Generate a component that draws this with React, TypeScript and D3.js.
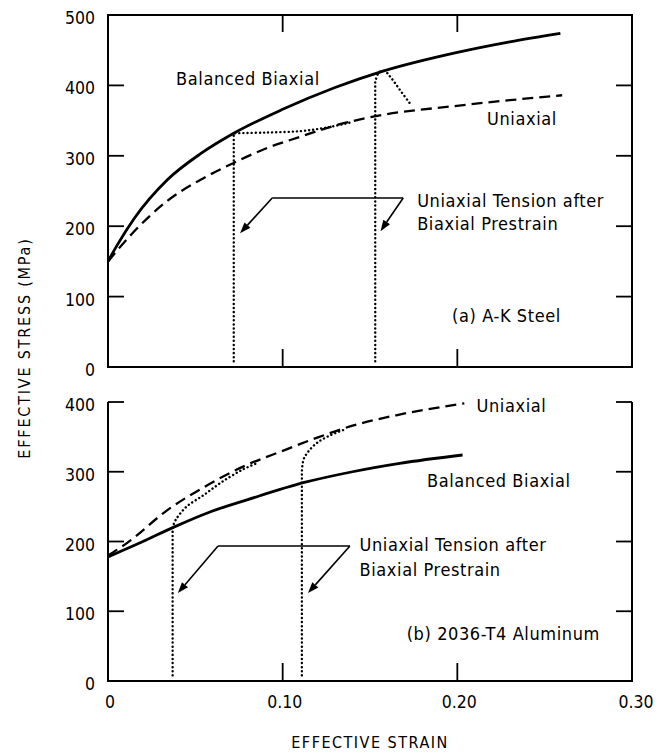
import React from 'react';
import * as d3 from 'd3';

// strain / stress pairs
// (a) A-K Steel
const steelBiaxial: [number, number][] = [
  [0, 150], [0.005, 172], [0.015, 211], [0.034, 266], [0.053, 303], [0.072, 332],
  [0.1, 366], [0.13, 397], [0.157, 420], [0.2, 447], [0.23, 462], [0.259, 474],
];
const steelUniaxial: [number, number][] = [
  [0, 150], [0.014, 190], [0.034, 236], [0.053, 266], [0.072, 290], [0.09, 310],
  [0.11, 327], [0.13, 343], [0.157, 358], [0.196, 370], [0.23, 379], [0.26, 386],
];
const steelPre1: [number, number][] = [
  [0.072, 8], [0.072, 332], [0.09, 333], [0.11, 335], [0.125, 340], [0.14, 348],
];
const steelPre2: [number, number][] = [
  [0.153, 8], [0.153, 405], [0.155, 418], [0.158, 421], [0.162, 411], [0.167, 394], [0.173, 374],
];

// (b) 2036-T4 Aluminum
const alBiaxial: [number, number][] = [
  [0, 178], [0.02, 200], [0.038, 221], [0.058, 242], [0.08, 260], [0.113, 285],
  [0.14, 300], [0.167, 312], [0.203, 324],
];
const alUniaxial: [number, number][] = [
  [0, 180], [0.011, 198], [0.034, 245], [0.055, 278], [0.077, 307], [0.1, 330],
  [0.121, 350], [0.14, 366], [0.165, 381], [0.204, 398],
];
const alPre1: [number, number][] = [
  [0.037, 8], [0.037, 221], [0.039, 232], [0.045, 250], [0.055, 267], [0.065, 285],
  [0.077, 303], [0.086, 313],
];
const alPre2: [number, number][] = [
  [0.111, 8], [0.111, 300], [0.112, 318], [0.115, 330], [0.12, 342], [0.127, 352], [0.136, 361],
];

const xTicks = [0, 0.1, 0.2, 0.3];
const xTickLabels = ['0', '0.10', '0.20', '0.30'];
const steelTicks = [0, 100, 200, 300, 400, 500];
const alTicks = [0, 100, 200, 300, 400];

const FONT = "'DejaVu Sans Condensed', 'DejaVu Sans', sans-serif";

const x = d3.scaleLinear().domain([0, 0.3]).range([108, 632]);
const yTop = d3.scaleLinear().domain([0, 500]).range([367, 15]);
const yBot = d3.scaleLinear().domain([0, 400]).range([681, 402]);

const Arrow = ({ x1, y1, x2, y2 }: { x1: number; y1: number; x2: number; y2: number }) => {
  const a = Math.atan2(y2 - y1, x2 - x1);
  const L = 11, W = 4;
  const bx = x2 - L * Math.cos(a), by = y2 - L * Math.sin(a);
  const p = `${x2},${y2} ${bx + W * Math.sin(a)},${by - W * Math.cos(a)} ${bx - W * Math.sin(a)},${by + W * Math.cos(a)}`;
  return (
    <g>
      <line x1={x1} y1={y1} x2={bx} y2={by} stroke="#000" strokeWidth={1.6} />
      <polygon points={p} fill="#000" />
    </g>
  );
};

const Panel = ({ y, ticks, top, curves, labels, leader }: any) => {
  const smooth = d3.line<[number, number]>()
    .x(d => x(d[0]))
    .y(d => y(d[1]))
    .curve(d3.curveMonotoneX);
  const bent = d3.line<[number, number]>()
    .x(d => x(d[0]))
    .y(d => y(d[1]))
    .curve(d3.curveCatmullRom.alpha(0.5));
  const straight = d3.line<[number, number]>()
    .x(d => x(d[0]))
    .y(d => y(d[1]));
  const pathFor = (c: any) => {
    if (c.kind !== 'dotted') return smooth(c.data) || '';
    // vertical reload line, then the curved part
    return (straight(c.data.slice(0, 2)) || '') + (bent(c.data.slice(1)) || '').replace(/^M/, 'L');
  };
  const [y0, y1] = y.range();
  const top0 = y.domain()[1];
  const tl = 16;
  const inner = ticks.filter((t: number) => t > 0 && (!top || t < top0));
  return (
    <g>
      <path
        d={top
          ? `M${x(0)},${y1}V${y0}H${x(0.3)}V${y1}Z`
          : `M${x(0)},${y1}V${y0}H${x(0.3)}V${y1}`}
        fill="none" stroke="#000" strokeWidth={2}
      />
      {inner.map((t: number) => (
        <g key={t}>
          <line x1={x(0)} x2={x(0) + tl} y1={y(t)} y2={y(t)} stroke="#000" strokeWidth={1.8} />
          <line x1={x(0.3)} x2={x(0.3) - tl} y1={y(t)} y2={y(t)} stroke="#000" strokeWidth={1.8} />
        </g>
      ))}
      {[0.1, 0.2].map(t => (
        <g key={t}>
          <line x1={x(t)} x2={x(t)} y1={y0} y2={y0 - 18} stroke="#000" strokeWidth={1.8} />
          {top && <line x1={x(t)} x2={x(t)} y1={y1} y2={y1 + 17} stroke="#000" strokeWidth={1.8} />}
        </g>
      ))}
      {ticks.map((t: number) => (
        <text key={t} x={95} y={y(t) + 3} textAnchor="end" dominantBaseline="central"
          fontSize={17.5} fontFamily={FONT}>{t}</text>
      ))}
      {curves.map((c: any, i: number) => (
        <path key={i} d={pathFor(c)} fill="none" stroke="#000"
          strokeWidth={c.kind === 'solid' ? 2.8 : c.kind === 'dashed' ? 2.3 : 2.4}
          strokeDasharray={c.kind === 'dashed' ? '11,6' : c.kind === 'dotted' ? '0.1,4' : undefined}
          strokeLinecap={c.kind === 'dotted' ? 'round' : 'butt'} />
      ))}
      <line x1={x(leader.from)} x2={x(leader.to)} y1={y(leader.level)} y2={y(leader.level)}
        stroke="#000" strokeWidth={1.6} />
      <Arrow x1={x(leader.from)} y1={y(leader.level)} x2={x(leader.tips[0][0])} y2={y(leader.tips[0][1])} />
      <Arrow x1={x(leader.to)} y1={y(leader.level)} x2={x(leader.tips[1][0])} y2={y(leader.tips[1][1])} />
      {labels.map((l: any, i: number) => (
        <text key={i} x={x(l.at[0])} y={y(l.at[1])} fontSize={18} fontFamily={FONT}
          letterSpacing={0.6}>{l.text}</text>
      ))}
    </g>
  );
};

export default function App() {
  return (
    <svg width={666} height={752} style={{ position: 'absolute', left: 0, top: 0, background: '#fff' }}>
      <Panel
        y={yTop}
        ticks={steelTicks}
        top
        curves={[
          { data: steelBiaxial, kind: 'solid' },
          { data: steelUniaxial, kind: 'dashed' },
          { data: steelPre1, kind: 'dotted' },
          { data: steelPre2, kind: 'dotted' },
        ]}
        leader={{ from: 0.094, to: 0.169, level: 240, tips: [[0.0756, 190], [0.156, 193]] }}
        labels={[
          { text: 'Balanced Biaxial', at: [0.039, 400.6] },
          { text: 'Uniaxial', at: [0.217, 344] },
          { text: 'Uniaxial Tension after', at: [0.177, 227] },
          { text: 'Biaxial Prestrain', at: [0.177, 195] },
          { text: '(a) A-K Steel', at: [0.197, 64] },
        ]}
      />
      <Panel
        y={yBot}
        ticks={alTicks}
        top={false}
        curves={[
          { data: alBiaxial, kind: 'solid' },
          { data: alUniaxial, kind: 'dashed' },
          { data: alPre1, kind: 'dotted' },
          { data: alPre2, kind: 'dotted' },
        ]}
        leader={{ from: 0.063, to: 0.1385, level: 193.5, tips: [[0.04, 126], [0.1145, 126]] }}
        labels={[
          { text: 'Uniaxial', at: [0.211, 385.7] },
          { text: 'Balanced Biaxial', at: [0.1826, 278] },
          { text: 'Uniaxial Tension after', at: [0.144, 186] },
          { text: 'Biaxial Prestrain', at: [0.144, 150.5] },
          { text: '(b) 2036-T4 Aluminum', at: [0.171, 59] },
        ]}
      />
      {xTicks.map((t, i) => (
        <text key={t} x={x(t) + (i === 3 ? 4 : 2)} y={708} textAnchor="middle" fontSize={17.5} fontFamily={FONT}>
          {xTickLabels[i]}
        </text>
      ))}
      <text x={370} y={748} textAnchor="middle" fontSize={16} fontFamily={FONT} letterSpacing={1.5}>
        EFFECTIVE STRAIN
      </text>
      <text transform="translate(30,348) rotate(-90)" textAnchor="middle" fontSize={16}
        fontFamily={FONT} letterSpacing={1.8}>
        EFFECTIVE STRESS (MPa)
      </text>
    </svg>
  );
}
